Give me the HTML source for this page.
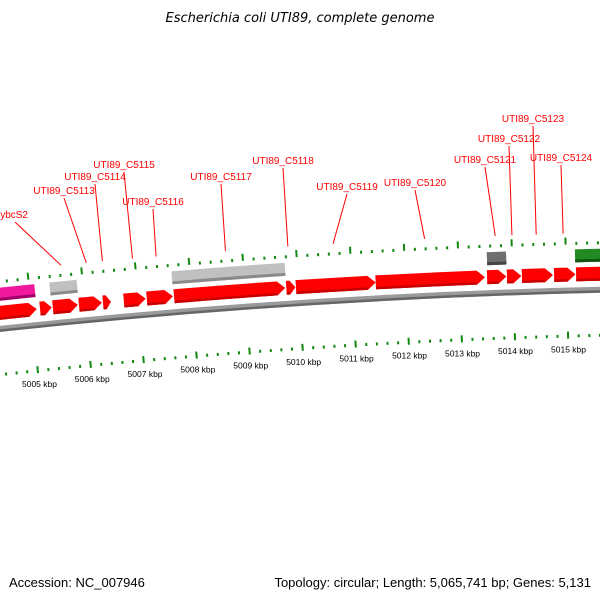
<!DOCTYPE html>
<html><head><meta charset="utf-8"><style>
body{margin:0;background:#fff;}
svg{display:block;font-family:"Liberation Sans","DejaVu Sans",sans-serif;}
</style></head><body>
<svg id="map" width="600" height="600" viewBox="0 0 600 600">
<text x="300" y="22" text-anchor="middle" font-size="13" font-style="italic" fill="#000" style="font-family:'DejaVu Sans',sans-serif">Escherichia coli UTI89, complete genome</text>
<text x="9" y="587" font-size="13" fill="#000">Accession: NC_007946</text>
<text x="591" y="587" text-anchor="end" font-size="13" fill="#000">Topology: circular; Length: 5,065,741 bp; Genes: 5,131</text>
<g id="layer"></g>
</svg>
<script>
// data (kbp)
const redGeneStarts = [4.3, 5.16, 5.40, 5.89, 6.34, 6.73, 7.16, 7.67, 9.77, 9.95, 11.44, 13.52, 13.89, 14.17, 14.77, 15.18];
const redGeneEnds   = [5.10, 5.38, 5.87, 6.32, 6.49, 7.14, 7.65, 9.75, 9.94, 11.44, 13.48, 13.88, 14.16, 14.75, 15.17, 15.8];
const otherGeneStarts = [4.3, 5.38, 7.66, 13.53, 15.17];
const otherGeneEnds   = [5.10, 5.89, 9.77, 13.89, 15.9];
const otherGeneTypes  = ["pink", "gray", "gray", "dark", "green"];
const geneLabels = ["ybcS2","UTI89_C5113","UTI89_C5114","UTI89_C5115","UTI89_C5116","UTI89_C5117","UTI89_C5118","UTI89_C5119","UTI89_C5120","UTI89_C5121","UTI89_C5122","UTI89_C5123","UTI89_C5124"];
const geneLabelKbp = [5.63, 6.10, 6.40, 6.96, 7.40, 8.69, 9.85, 10.69, 12.39, 13.70, 14.01, 14.46, 14.96];
const labelTextX = [28, 64, 95, 124, 153, 221, 283, 347, 415, 485, 509, 533, 561];
const labelTextY = [218, 194, 180, 168, 205, 180, 164, 190, 186, 163, 142, 122, 161];
const tickLabels = ["5005 kbp","5006 kbp","5007 kbp","5008 kbp","5009 kbp","5010 kbp","5011 kbp","5012 kbp","5013 kbp","5014 kbp","5015 kbp"];
const tickLabelKbp = [5, 6, 7, 8, 9, 10, 11, 12, 13, 14, 15];

const CX = 759, CY = 7348, R0 = 7060, TH0 = -0.1030, K = 0.007578;
const NS = "http://www.w3.org/2000/svg";
const layer = document.getElementById('layer');
function ang(kbp){ return TH0 + (kbp - 5) * K; }
function pt(kbp, off){ const a = ang(kbp), r = R0 + off; return [CX + r*Math.sin(a), CY - r*Math.cos(a)]; }
function mk(tag, attrs){ const e = document.createElementNS(NS, tag); for (const k in attrs) e.setAttribute(k, attrs[k]); layer.appendChild(e); return e; }
function band(a, b, r1, r2){
  const p1 = pt(a, r2), p2 = pt(b, r2), p3 = pt(b, r1), p4 = pt(a, r1);
  return `M${p1[0]},${p1[1]} A${R0+r2},${R0+r2} 0 0 1 ${p2[0]},${p2[1]} L${p3[0]},${p3[1]} A${R0+r1},${R0+r1} 0 0 0 ${p4[0]},${p4[1]}Z`;
}
function arrowHead(a, b){ return Math.min(0.15, (b - a) * 0.6); }
function arrow(a, b, r1, r2){
  const m = b - arrowHead(a, b), mid = (r1 + r2) / 2;
  const p1 = pt(a, r2), p2 = pt(m, r2), tip = pt(b, mid), p3 = pt(m, r1), p4 = pt(a, r1);
  return `M${p1[0]},${p1[1]} A${R0+r2},${R0+r2} 0 0 1 ${p2[0]},${p2[1]} L${tip[0]},${tip[1]} L${p3[0]},${p3[1]} A${R0+r1},${R0+r1} 0 0 0 ${p4[0]},${p4[1]}Z`;
}
// backbone
let bb = mk('path', {d: band(4.0, 16.2, -3, 3), fill: '#9a9a9a'});


let bb2 = mk('path', {d: band(4.0, 16.2, -3, -0.5), fill: '#666'});


// ticks
for (let i = 0; i <= 65; i++) {
  const kbp = 4.0 + i * 0.2;
  const major = i % 5 === 0;
  const o1 = major ? [46, 53] : [45.5, 48.5];
  const i1 = major ? [-48, -41] : [-47, -44];
  [o1, i1].forEach((rr, j) => {
    const a = pt(kbp, rr[0]), b = pt(kbp, rr[1]);
    const t = mk('line', {x1: a[0], y1: a[1], x2: b[0], y2: b[1], stroke: '#118811', 'stroke-width': 2});
    
    
  });
}
tickLabels.forEach((s, i) => {
  const p = pt(tickLabelKbp[i], -62);
  const t = mk('text', {x: p[0], y: p[1], 'text-anchor': 'middle', 'font-size': 8.5, fill: '#000'});
  t.textContent = s;
  
  
});
// other genes
const fills = {pink: '#f0189c', gray: '#c0c0c0', dark: '#6e6e6e', green: '#238a23'};
const shades = {pink: '#a0006a', gray: '#8a8a8a', dark: '#454545', green: '#125812'};
otherGeneStarts.forEach((s, i) => {
  const e = mk('path', {d: band(s, otherGeneEnds[i], 28, 41), fill: fills[otherGeneTypes[i]]});
  
  
  const sh = mk('path', {d: band(s, otherGeneEnds[i], 28, 31), fill: shades[otherGeneTypes[i]]});
  
  
});
// red genes
redGeneStarts.forEach((s, i) => {
  const e = mk('path', {d: arrow(s, redGeneEnds[i], 9, 23), fill: '#ff0000'});
  
  
  const m = redGeneEnds[i] - arrowHead(s, redGeneEnds[i]);
  const sh = mk('path', {d: band(s, m, 9, 11.5), fill: '#c80000'});
  
  
});
// labels
geneLabels.forEach((s, i) => {
  const end = pt(geneLabelKbp[i], 57);
  const x0 = i === 0 ? 15 : labelTextX[i];
  const l = mk('line', {x1: x0, y1: labelTextY[i] + 4, x2: end[0], y2: end[1], stroke: '#ff0000', 'stroke-width': 1});
  
  
  const t = mk('text', {x: labelTextX[i], y: labelTextY[i], 'text-anchor': i === 0 ? 'end' : 'middle', 'font-size': 10, fill: '#ff0000'});
  t.textContent = s;
  
  
});
</script>
</body></html>
